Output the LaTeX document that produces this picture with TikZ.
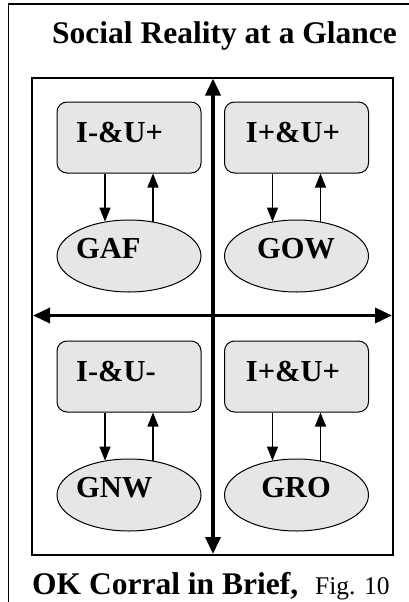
\documentclass[tikz,border=0pt]{standalone}
\usepackage{fontspec}
\setmainfont{Liberation Serif}
\usetikzlibrary{arrows.meta,shapes.geometric}
\definecolor{boxgray}{HTML}{E6E6E6}
\tikzset{
  x=1pt,y=-1pt,
  frame/.style={line width=1.6pt},
  axis/.style={line width=3.6pt,{Triangle[length=17pt,width=15pt]}-{Triangle[length=17pt,width=15pt]}},
  rbox/.style={draw,line width=1pt,fill=boxgray,rounded corners=10pt,minimum width=144pt,minimum height=71pt,inner sep=0pt},
  ell/.style={draw,line width=1pt,fill=boxgray,ellipse,minimum width=144pt,minimum height=72pt,inner sep=0pt},
  flow/.style={line width=1.3pt,-{Triangle[length=14pt,width=11pt]}},
  lbl/.style={font=\fontsize{30.5}{34}\selectfont\bfseries,inner sep=0pt},
}
\begin{document}
\begin{tikzpicture}
\useasboundingbox (0,0) rectangle (409,602);
% outer frame (open at right and bottom, cropped)
\draw[frame] (409,4) -- (8.5,4) -- (8.5,602);
\node[anchor=base west,inner sep=0pt,font=\fontsize{31.5}{36}\selectfont\bfseries] (title) at (52,44) {Social Reality at a Glance};
% inner frame
\draw[line width=2pt] (32,77.5) rectangle (393,555);
\coordinate (vt) at (213,78.5);
\coordinate (vb) at (213,554);
\coordinate (hl) at (33,315.5);
\coordinate (hr) at (392,315.5);
\draw[axis] (vb) -- (vt);
\draw[axis] (hl) -- (hr);
% top-left
\node[rbox] (b1) at (129,137.5) {};
\node[ell] (e1) at (129,256) {};
\node[lbl,anchor=base west] (t1) at (76,142) {I-\&U+};
\node[lbl,anchor=base west] (s1) at (76,258) {GAF};
% top-right
\node[rbox] (b2) at (296.5,137.5) {};
\node[ell] (e2) at (296.5,256) {};
\node[lbl,anchor=base] (t2) at (293,142) {I+\&U+};
\node[lbl,anchor=base] (s2) at (296,258) {GOW};
% bottom-left
\node[rbox] (b3) at (129,376.5) {};
\node[ell] (e3) at (129,495) {};
\node[lbl,anchor=base west] (t3) at (76,381) {I-\&U-};
\node[lbl,anchor=base west] (s3) at (76,497) {GNW};
% bottom-right
\node[rbox] (b4) at (296.5,376.5) {};
\node[ell] (e4) at (296.5,495) {};
\node[lbl,anchor=base] (t4) at (293,381) {I+\&U+};
\node[lbl,anchor=base] (s4) at (296,497) {GRO};
% flows
\foreach \b/\e in {b1/e1,b2/e2,b3/e3,b4/e4}{
  \draw[flow] ([xshift=-24pt]\b.south) -- ([xshift=-24pt,yshift=-2.1pt]\e.north);
  \draw[flow] ([xshift=24pt,yshift=-2.1pt]\e.north) -- ([xshift=24pt]\b.south);
}
% caption
\node[anchor=base west,inner sep=0pt,font=\fontsize{31.5}{36}\selectfont\bfseries] (cap) at (32,594) {OK Corral in Brief,};
\node[anchor=base west,inner sep=0pt,font=\fontsize{25.5}{30}\selectfont] (fig) at (315,594) {Fig. 10};
\end{tikzpicture}
\end{document}
